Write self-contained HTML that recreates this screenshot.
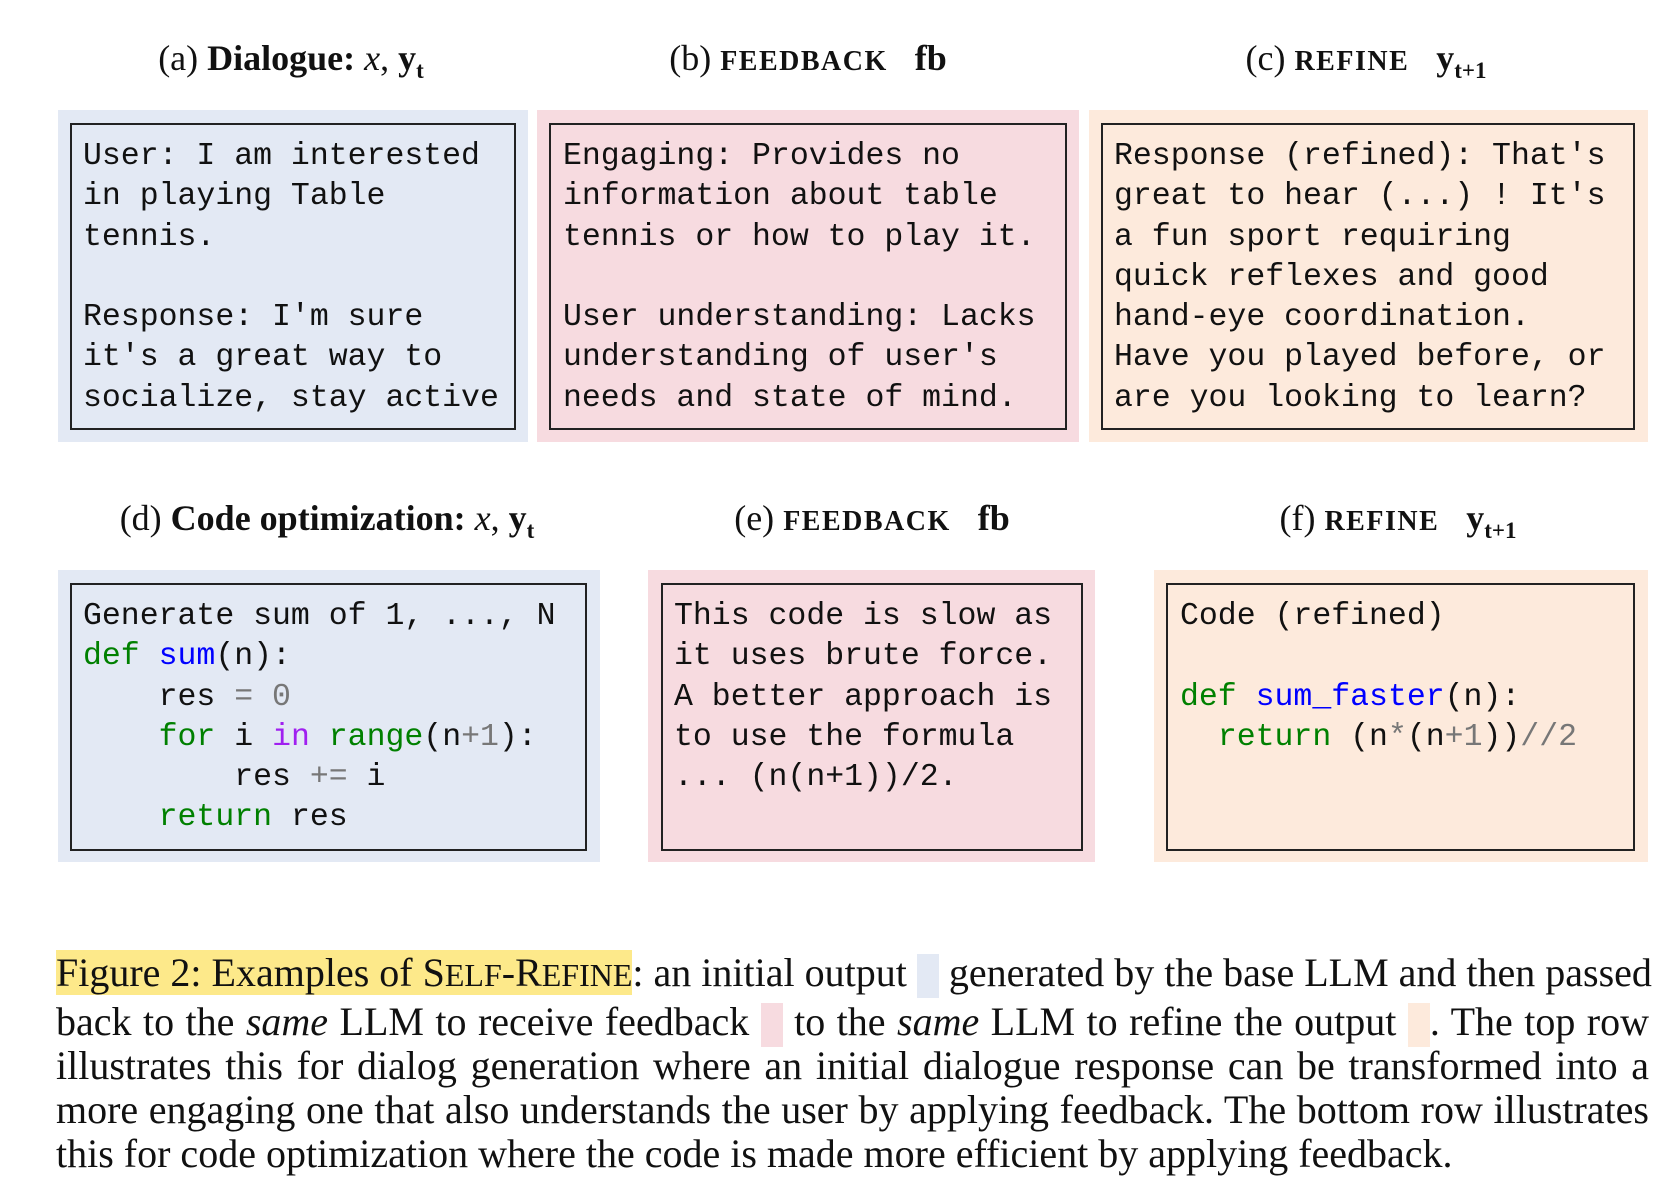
<!DOCTYPE html>
<html><head><meta charset="utf-8"><style>
body{margin:0;width:1678px;height:1192px;background:#fff;position:relative;overflow:hidden;font-family:"Liberation Serif",serif;color:#111}
.t{position:absolute;font-size:36px;white-space:nowrap;transform:translateX(-50%);line-height:1}
.sc{font-weight:bold;font-size:28px;letter-spacing:1.5px}
.o{position:absolute}
.i{position:absolute;border:2px solid #222;box-sizing:border-box}
.m{position:absolute;font-family:"Liberation Mono",monospace;font-size:31.5px;line-height:40.3px;white-space:pre;color:#111}
.bl{background:#e3e9f4}.pk{background:#f7dbe0}.or{background:#fdeadc}
.g{color:#008000}.b{color:#0000ff}.p{color:#a020f0}.gr{color:#777}
.c{position:absolute;left:56px;width:1593px;font-size:40px;line-height:44px;text-align:justify;text-align-last:justify;white-space:nowrap}
.sw{display:inline-block;width:22px;height:44px;vertical-align:-12px}
sub{font-size:23px}
</style></head><body>
<div class="t" style="left:291px;top:40px">(a) <b>Dialogue:</b> <i>x</i>, <b>y<sub>t</sub></b></div>
<div class="t" style="left:808px;top:40px">(b) <span class="sc">FEEDBACK</span>&nbsp;&nbsp; <b>fb</b></div>
<div class="t" style="left:1366px;top:40px">(c) <span class="sc">REFINE</span>&nbsp;&nbsp; <b>y<sub>t+1</sub></b></div>

<div class="o bl" style="left:58px;top:110px;width:470px;height:332px"></div>
<div class="i" style="left:70px;top:123px;width:446px;height:307px"></div>
<div class="m" style="left:83px;top:137px">User: I am interested
in playing Table
tennis.

Response: I'm sure
it's a great way to
socialize, stay active</div>

<div class="o pk" style="left:537px;top:110px;width:542px;height:332px"></div>
<div class="i" style="left:549px;top:123px;width:518px;height:307px"></div>
<div class="m" style="left:563px;top:137px">Engaging: Provides no
information about table
tennis or how to play it.

User understanding: Lacks
understanding of user's
needs and state of mind.</div>

<div class="o or" style="left:1089px;top:110px;width:559px;height:332px"></div>
<div class="i" style="left:1101px;top:123px;width:534px;height:307px"></div>
<div class="m" style="left:1114px;top:137px">Response (refined): That's
great to hear (...) ! It's
a fun sport requiring
quick reflexes and good
hand-eye coordination.
Have you played before, or
are you looking to learn?</div>

<div class="t" style="left:327px;top:500px">(d) <b>Code optimization:</b> <i>x</i>, <b>y<sub>t</sub></b></div>
<div class="t" style="left:872px;top:500px">(e) <span class="sc">FEEDBACK</span>&nbsp;&nbsp; <b>fb</b></div>
<div class="t" style="left:1398px;top:500px">(f) <span class="sc">REFINE</span>&nbsp;&nbsp; <b>y<sub>t+1</sub></b></div>

<div class="o bl" style="left:58px;top:570px;width:542px;height:292px"></div>
<div class="i" style="left:70px;top:583px;width:517px;height:268px"></div>
<div class="m" style="left:83px;top:597px">Generate sum of 1, ..., N
<span class="g">def</span> <span class="b">sum</span>(n):
    res <span class="gr">=</span> <span class="gr">0</span>
    <span class="g">for</span> i <span class="p">in</span> <span class="g">range</span>(n<span class="gr">+1</span>):
        res <span class="gr">+=</span> i
    <span class="g">return</span> res</div>

<div class="o pk" style="left:648px;top:570px;width:447px;height:292px"></div>
<div class="i" style="left:661px;top:583px;width:422px;height:268px"></div>
<div class="m" style="left:674px;top:597px">This code is slow as
it uses brute force.
A better approach is
to use the formula
... (n(n+1))/2.</div>

<div class="o or" style="left:1154px;top:570px;width:494px;height:292px"></div>
<div class="i" style="left:1166px;top:583px;width:469px;height:268px"></div>
<div class="m" style="left:1180px;top:597px">Code (refined)

<span class="g">def</span> <span class="b">sum_faster</span>(n):
  <span class="g">return</span> (n<span class="gr">*</span>(n<span class="gr">+1</span>))<span class="gr">//2</span></div>

<div class="c" style="top:951px"><span style="background:#fde98a">Figure 2: Examples of S<span style="font-size:32px">ELF</span>-R<span style="font-size:32px">EFINE</span></span>: an initial output <span class="sw bl"></span> generated by the base LLM and then passed</div>
<div class="c" style="top:1000px">back to the <i>same</i> LLM to receive feedback <span class="sw pk"></span> to the <i>same</i> LLM to refine the output <span class="sw or"></span>. The top row</div>
<div class="c" style="top:1044px">illustrates this for dialog generation where an initial dialogue response can be transformed into a</div>
<div class="c" style="top:1088px">more engaging one that also understands the user by applying feedback. The bottom row illustrates</div>
<div class="c" style="top:1132px;text-align-last:left">this for code optimization where the code is made more efficient by applying feedback.</div>
</body></html>
